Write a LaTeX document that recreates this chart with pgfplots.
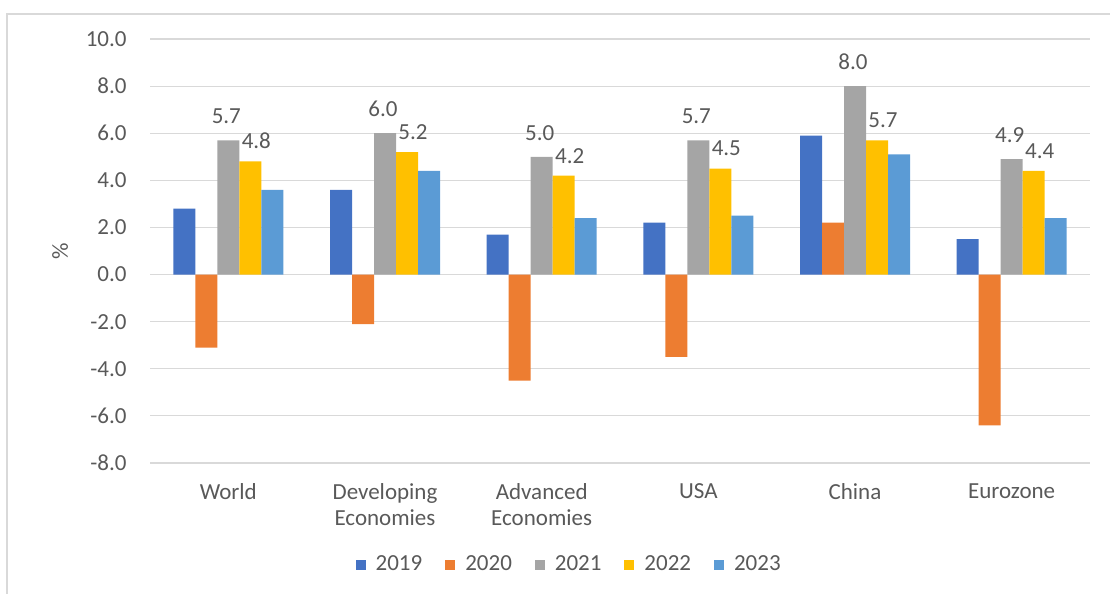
\documentclass[border=0pt]{standalone}
\usepackage{fontspec}
\setmainfont{Carlito}
\usepackage{pgfplots}
\pgfplotsset{compat=1.18}
\definecolor{c19}{HTML}{4472C4}
\definecolor{c20}{HTML}{ED7D31}
\definecolor{c21}{HTML}{A5A5A5}
\definecolor{c22}{HTML}{FFC000}
\definecolor{c23}{HTML}{5B9BD5}
\definecolor{txt}{HTML}{595959}
\definecolor{grd}{HTML}{D9D9D9}
\newcommand\cf{\fontsize{11.5bp}{13bp}\selectfont}
\begin{document}
\begin{tikzpicture}
\path[use as bounding box] (0,0) rectangle (555bp,297bp);
\draw[color=grd, line width=0.9bp] (3.5bp,0) -- (3.5bp,290bp) -- (555bp,290bp);
\begin{axis}[
  at={(75bp,65.5bp)}, anchor=south west,
  scale only axis, width=470bp, height=212bp,
  /pgf/number format/assume math mode=true,
  ybar=0pt, bar width=11bp,
  xmin=-0.5, xmax=5.5, ymin=-8, ymax=10,
  ytick={-8,-6,...,10},
  xtick={0,1,2,3,4,5},
  xticklabels={World, Developing\\Economies, Advanced\\Economies, USA, China, Eurozone},
  axis line style={draw=none},
  tick style={draw=none},
  ymajorgrids, grid style={color=grd, line width=0.6bp},
  yticklabel style={/pgf/number format/.cd, fixed, fixed zerofill, precision=1, /tikz/.cd,
    font=\cf, text=txt, inner sep=0pt, xshift=-11.5bp},
  xticklabel style={font=\cf, text=txt, align=center, inner sep=0pt, yshift=-6bp},
  ylabel={\%},
  ylabel style={at={(axis description cs:-0.0957,0.5)}, anchor=center, font=\cf, text=txt},
  nodes near coords style={/pgf/number format/.cd, fixed, fixed zerofill, precision=1, /tikz/.cd,
    font=\cf, text=txt, inner sep=0pt, anchor=south},
  legend style={at={(axis description cs:0.447,0)}, anchor=center, yshift=-51bp,
    draw=none, font=\cf, text=txt, legend columns=5,
    /tikz/every odd column/.append style={column sep=3bp},
    /tikz/every even column/.append style={column sep=9.5bp}},
  legend image code/.code={\fill[#1] (0bp,-2.5bp) rectangle (5bp,2.5bp);},
]
\addplot[fill=c19, draw=none] coordinates {(0,2.8) (1,3.6) (2,1.7) (3,2.2) (4,5.9) (5,1.5)};
\addplot[fill=c20, draw=none] coordinates {(0,-3.1) (1,-2.1) (2,-4.5) (3,-3.5) (4,2.2) (5,-6.4)};
\addplot[fill=c21, draw=none, nodes near coords, nodes near coords style={yshift=8bp, xshift=-1bp}] coordinates {(0,5.7) (1,6.0) (2,5.0) (3,5.7) (4,8.0) (5,4.9)};
\addplot[fill=c22, draw=none, nodes near coords, nodes near coords style={yshift=6bp, xshift=3bp}] coordinates {(0,4.8) (1,5.2) (2,4.2) (3,4.5) (4,5.7) (5,4.4)};
\addplot[fill=c23, draw=none] coordinates {(0,3.6) (1,4.4) (2,2.4) (3,2.5) (4,5.1) (5,2.4)};
\legend{2019,2020,2021,2022,2023}
\end{axis}
\end{tikzpicture}
\end{document}
